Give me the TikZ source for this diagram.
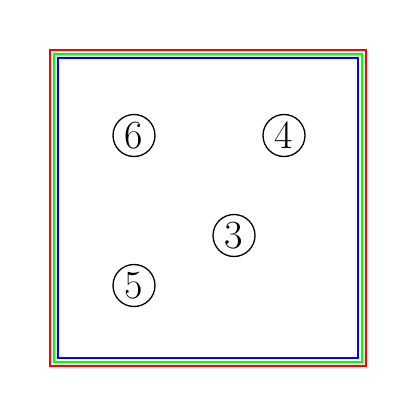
\documentclass[tikz,border=0pt]{standalone}
\usepackage{fontspec}
\newfontfamily\numfont{Latin Modern Roman}
\begin{document}
\begin{tikzpicture}[x=1pt,y=-1pt,
  num/.style={circle,draw,line width=1.3pt,minimum size=42pt,inner sep=0pt,font=\numfont\fontsize{40}{44}\selectfont},
  frame/.style={line width=2pt}]
\useasboundingbox (0,0) rectangle (417,417);
\draw[frame,red] (50,50) rectangle (366,366);
\draw[frame,green] (54,54) rectangle (362,362);
\draw[frame,blue] (58,58) rectangle (358,358);
\node[num] (n6) at (134,135.5) {6};
\node[num] (n4) at (284,135.5) {4};
\node[num] (n3) at (234,235.5) {3};
\node[num] (n5) at (134,285.5) {5};
\end{tikzpicture}
\end{document}
